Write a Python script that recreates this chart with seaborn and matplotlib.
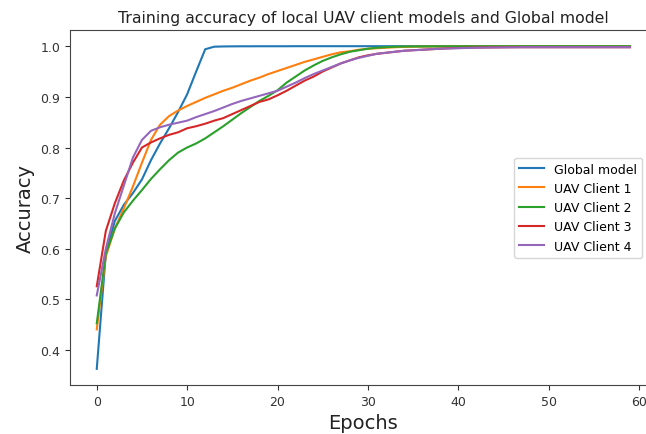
import matplotlib
matplotlib.use("Agg")
import matplotlib.pyplot as plt
import numpy as np
import pandas as pd
import seaborn as sns

epochs = list(range(60))

global_model = [
    0.363, 0.590, 0.655, 0.687, 0.710, 0.737, 0.775, 0.808, 0.838, 0.870,
    0.905, 0.950, 0.994, 0.999, 0.9995, 0.9997, 0.9998, 0.9998, 0.9999, 0.9999,
    0.9999, 0.9999, 1.0, 1.0, 1.0, 1.0, 1.0, 1.0, 1.0, 1.0,
    1.0, 1.0, 1.0, 1.0, 1.0, 1.0, 1.0, 1.0, 1.0, 1.0,
    1.0, 1.0, 1.0, 1.0, 1.0, 1.0, 1.0, 1.0, 1.0, 1.0,
    1.0, 1.0, 1.0, 1.0, 1.0, 1.0, 1.0, 1.0, 1.0, 1.0,
]
client_1 = [
    0.441, 0.585, 0.640, 0.680, 0.723, 0.770, 0.815, 0.845, 0.862, 0.873,
    0.882, 0.890, 0.898, 0.905, 0.912, 0.918, 0.925, 0.932, 0.938, 0.945,
    0.951, 0.957, 0.963, 0.969, 0.974, 0.979, 0.984, 0.988, 0.990, 0.993,
    0.995, 0.996, 0.997, 0.998, 0.9985, 0.999, 0.9992, 0.9994, 0.9995, 0.9996,
    0.9997, 0.9997, 0.9998, 0.9998, 0.9998, 0.9999, 0.9999, 0.9999, 0.9999, 0.9999,
    0.9999, 0.9999, 0.9999, 0.9999, 0.9999, 0.9999, 0.9999, 0.9999, 0.9999, 0.9999,
]
client_2 = [
    0.453, 0.590, 0.640, 0.672, 0.695, 0.716, 0.738, 0.757, 0.775, 0.790,
    0.800, 0.808, 0.818, 0.830, 0.842, 0.855, 0.868, 0.880, 0.892, 0.902,
    0.913, 0.928, 0.940, 0.952, 0.962, 0.971, 0.978, 0.984, 0.989, 0.992,
    0.995, 0.997, 0.998, 0.999, 0.9993, 0.9995, 0.9996, 0.9997, 0.9998, 0.9998,
    0.9998, 0.9999, 0.9999, 0.9999, 0.9999, 0.9999, 0.9999, 0.9999, 0.9999, 0.9999,
    0.9999, 0.9999, 0.9999, 0.9999, 0.9999, 0.9999, 0.9999, 0.9999, 0.9999, 0.9999,
]
client_3 = [
    0.526, 0.635, 0.690, 0.735, 0.770, 0.800, 0.810, 0.818, 0.825, 0.830,
    0.838, 0.842, 0.847, 0.853, 0.858, 0.866, 0.874, 0.882, 0.890, 0.895,
    0.903, 0.912, 0.922, 0.932, 0.940, 0.950, 0.958, 0.966, 0.972, 0.978,
    0.982, 0.985, 0.987, 0.989, 0.991, 0.992, 0.993, 0.994, 0.995, 0.996,
    0.9965, 0.997, 0.9973, 0.9975, 0.9977, 0.9978, 0.998, 0.998, 0.998, 0.998,
    0.998, 0.998, 0.998, 0.998, 0.998, 0.998, 0.998, 0.998, 0.998, 0.998,
]
client_4 = [
    0.508, 0.600, 0.670, 0.725, 0.780, 0.815, 0.833, 0.840, 0.845, 0.849,
    0.853, 0.860, 0.866, 0.872, 0.879, 0.886, 0.892, 0.897, 0.902, 0.907,
    0.912, 0.920, 0.928, 0.937, 0.945, 0.952, 0.959, 0.966, 0.972, 0.977,
    0.981, 0.985, 0.987, 0.989, 0.991, 0.992, 0.993, 0.994, 0.995, 0.9955,
    0.996, 0.9965, 0.997, 0.9973, 0.9975, 0.9977, 0.9978, 0.998, 0.998, 0.998,
    0.998, 0.998, 0.998, 0.998, 0.998, 0.998, 0.998, 0.998, 0.998, 0.998,
]

series_names = ["Global model", "UAV Client 1", "UAV Client 2", "UAV Client 3", "UAV Client 4"]
series_values = [global_model, client_1, client_2, client_3, client_4]

frames = [
    pd.DataFrame({"Epochs": epochs, "Accuracy": vals, "Model": name})
    for name, vals in zip(series_names, series_values)
]
df = pd.concat(frames, ignore_index=True)

fig = plt.figure(figsize=(6.46, 4.35), dpi=100)
ax = fig.add_axes([0.1085, 0.1126, 0.908, 0.816])

sns.lineplot(
    data=df, x="Epochs", y="Accuracy", hue="Model",
    palette=sns.color_palette("tab10", 5), linewidth=1.5, ax=ax,
)

ax.set_title("Training accuracy of local UAV client models and Global model",
             fontsize=11.3, color="#222222")
ax.set_xlabel("Epochs", fontsize=14, color="#222222")
ax.set_ylabel("Accuracy", fontsize=14, color="#222222")
ax.set_xticks([0, 10, 20, 30, 40, 50, 60])
ax.set_yticks([0.4, 0.5, 0.6, 0.7, 0.8, 0.9, 1.0])
ax.tick_params(labelsize=9, colors="#333333")
for spine in ax.spines.values():
    spine.set_color("#444444")

handles, labels = ax.get_legend_handles_labels()
ax.legend(handles, labels, loc="center right", bbox_to_anchor=(0.986, 0.5), fontsize=9)

fig.savefig("out.png", dpi=100)
